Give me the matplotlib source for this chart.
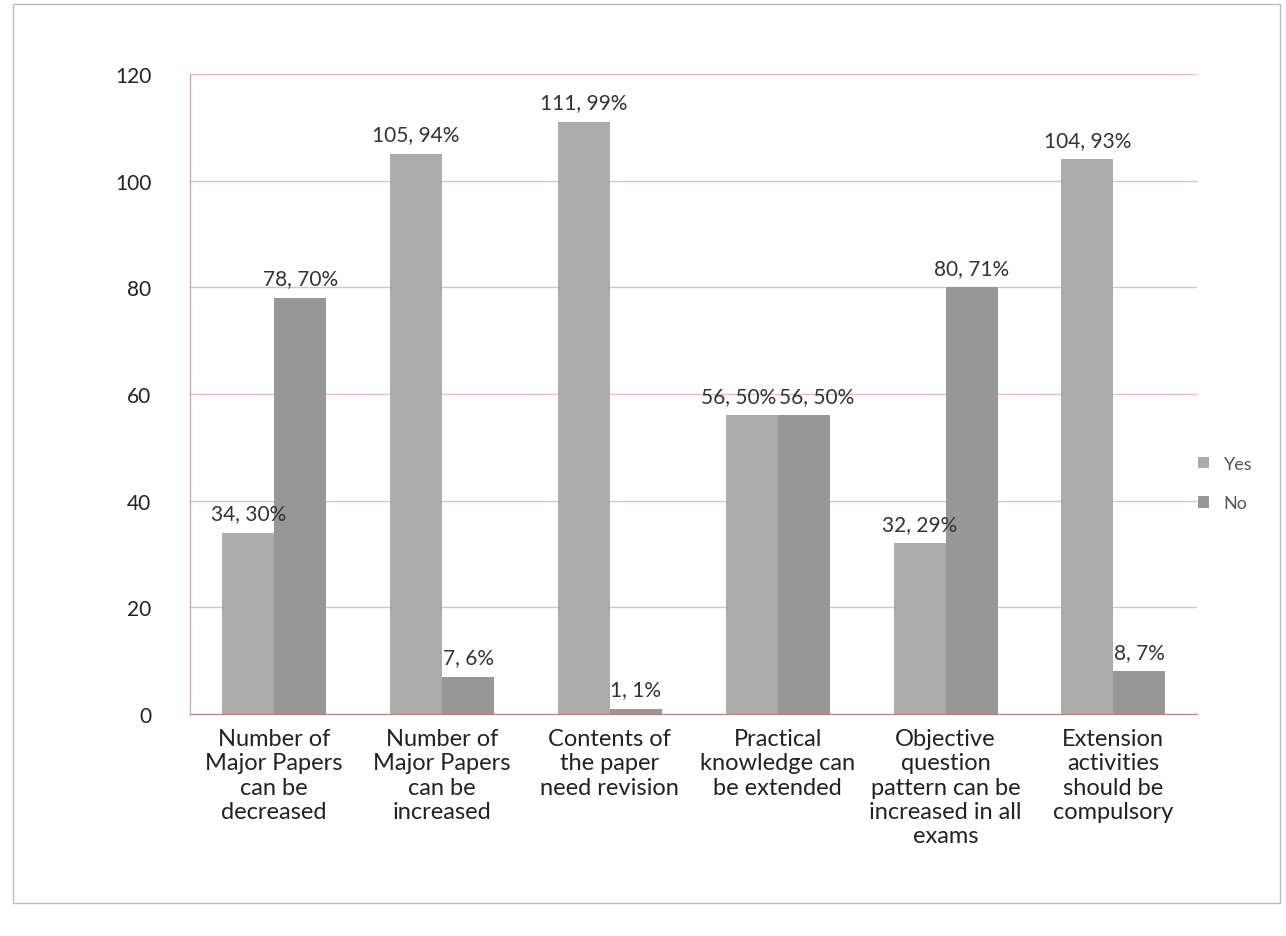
import matplotlib
matplotlib.use("Agg")
import matplotlib.pyplot as plt
import numpy as np
from matplotlib.patches import Rectangle

categories = [
    "Number of\nMajor Papers\ncan be\ndecreased",
    "Number of\nMajor Papers\ncan be\nincreased",
    "Contents of\nthe paper\nneed revision",
    "Practical\nknowledge can\nbe extended",
    "Objective\nquestion\npattern can be\nincreased in all\nexams",
    "Extension\nactivities\nshould be\ncompulsory",
]
yes_values = [34, 105, 111, 56, 32, 104]
yes_pct = [30, 94, 99, 50, 29, 93]
no_values = [78, 7, 1, 56, 80, 8]
no_pct = [70, 6, 1, 50, 71, 7]
y_ticks = [0, 20, 40, 60, 80, 100, 120]

plt.rcParams['font.family'] = ['Lato', 'DejaVu Sans']

fig = plt.figure(figsize=(12.86, 9.37), dpi=100)
ax = fig.add_axes([0.148, 0.237, 0.783, 0.683])

x = np.arange(len(categories))
w = 0.31
yes_color = "#ababab"
no_color = "#979797"
ax.bar(x - w / 2, yes_values, w, color=yes_color, label="Yes", zorder=3)
ax.bar(x + w / 2, no_values, w, color=no_color, label="No", zorder=3)

lab_kw = dict(va="bottom", fontsize=15, color="#333333", zorder=4)
for xi, yv, yp, nv, np_ in zip(x, yes_values, yes_pct, no_values, no_pct):
    if abs(yv - nv) < 8:
        # labels at the same height: set them side by side around the group centre
        ax.text(xi - 0.01, yv + 1.8, f"{yv}, {yp}%", ha="right", **lab_kw)
        ax.text(xi + 0.01, nv + 1.8, f"{nv}, {np_}%", ha="left", **lab_kw)
    else:
        ax.text(xi - w / 2, yv + 1.8, f"{yv}, {yp}%", ha="center", **lab_kw)
        ax.text(xi + w / 2, nv + 1.8, f"{nv}, {np_}%", ha="center", **lab_kw)

ax.set_ylim(0, 120)
ax.set_xlim(-0.5, len(categories) - 0.5)
ax.set_yticks(y_ticks)
ax.set_yticklabels([str(t) for t in y_ticks], fontsize=15, color="#222222")
ax.set_xticks(x)
ax.set_xticklabels(categories, fontsize=17, color="#222222", linespacing=1.2)
ax.tick_params(axis="x", length=0, pad=10)
ax.tick_params(axis="y", length=0, pad=28)
ax.grid(axis="y", color="#e6bcbc", linewidth=1.0, zorder=0)
for s in ["top", "right"]:
    ax.spines[s].set_visible(False)
ax.spines["left"].set_color("#c9a0a0")
ax.spines["bottom"].set_color("#b08080")

ax.legend(loc="center left", bbox_to_anchor=(0.985, 0.36), frameon=False,
          fontsize=13, handlelength=0.6, handleheight=0.6, labelspacing=1.3,
          labelcolor="#555555")

fig.patches.append(Rectangle((0.01, 0.035), 0.985, 0.96, transform=fig.transFigure,
                             fill=False, edgecolor="#bbbbbb", linewidth=1.0))

fig.savefig("out.png", dpi=100, facecolor="white")
